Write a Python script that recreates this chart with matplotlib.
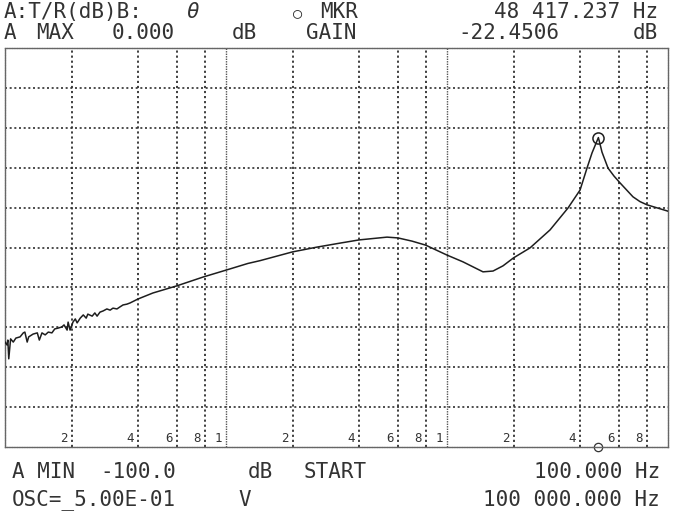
import matplotlib
matplotlib.use("Agg")
import matplotlib.pyplot as plt

# trace (Hz, dB)
freq = [100, 102, 103, 104, 106, 109, 112, 117, 121, 123, 126, 128, 134, 140, 143, 147,
        152, 157, 163, 168, 174, 181, 185, 191, 193, 197, 203, 208, 212, 219, 226, 233,
        237, 248, 255, 261, 269, 278, 289, 299, 308, 321, 331, 342, 356, 368, 400, 467,
        600, 788, 1010, 1256, 1425, 2000, 2581, 3280, 4000, 5353, 6000, 6942, 8000,
        10000, 11815, 14550, 16150, 17920, 20000, 23750, 29250, 35280, 40000, 43000,
        45310, 48417, 50280, 53530, 56980, 60650, 69430, 74700, 80350, 100000]
gain = [-73.7, -74.4, -73.2, -77.9, -72.9, -73.7, -72.7, -72.4, -71.4, -71.2, -73.7, -72.4,
        -71.7, -71.4, -73.2, -71.4, -71.9, -71.2, -71.4, -70.4, -70.2, -69.9, -69.4, -70.7,
        -68.7, -70.7, -68.7, -67.9, -68.9, -67.7, -66.9, -67.7, -66.7, -67.2, -66.4, -67.2,
        -66.2, -65.9, -65.4, -65.7, -65.2, -65.4, -64.9, -64.4, -64.2, -63.9, -62.9, -61.4,
        -59.6, -57.4, -55.6, -54.0, -53.3, -51.1, -49.9, -48.9, -48.1, -47.4, -47.6, -48.4,
        -49.4, -51.9, -53.6, -56.1, -55.9, -54.6, -52.6, -50.1, -45.6, -40.1, -35.6, -30.1,
        -26.3, -22.45, -26.1, -30.1, -32.1, -33.8, -37.3, -38.5, -39.3, -40.9]

mkr_f = 48417.237
mkr_db = -22.4506

decades = [100, 1000, 10000]
sub = [2, 4, 6, 8]
sub_labels = ["2", "4", "6", "8", "1"]

W, H = 678, 512
fig = plt.figure(figsize=(W / 100, H / 100), dpi=100)
ax = fig.add_axes([5 / W, 1 - 447 / H, 663 / W, 399 / H])

grid_col = "#2f2f2f"
dots = (0, (1.2, 1.6))

ax.semilogx(freq, gain, color="#1e1e1e", lw=1.1, zorder=3)
ax.plot(mkr_f, mkr_db, "o", mfc="none", mec="#1e1e1e", ms=8, mew=1.1, zorder=4)
ax.plot(mkr_f, -100, "o", mfc="none", mec="#333333", ms=6, mew=0.9, clip_on=False)

ax.set_xlim(100, 100000)
ax.set_ylim(-100, 0)

# grid
for d in decades:
    for m in sub:
        ax.axvline(d * m, color=grid_col, lw=1.3, ls=dots)
    if d > 100:
        ax.axvline(d, color="#555555", lw=1.0, ls=(0, (1, 0.8)))
for yv in range(-90, 0, 10):
    ax.axhline(yv, color=grid_col, lw=1.2, ls=dots)

ax.set_xticks([])
ax.set_yticks([])
ax.minorticks_off()
for s in ax.spines.values():
    s.set_linestyle((0, (1, 0.8)))
    s.set_color("#666666")
    s.set_linewidth(1.0)

# frequency labels inside the plot
for d in decades:
    for m, lab in zip(sub + [10], sub_labels):
        if d * m >= 100000:
            continue
        ax.annotate(lab, xy=(d * m, -100), xytext=(-3, 1.5), textcoords="offset points",
                    ha="right", va="bottom", fontsize=9, color="#333333",
                    family="DejaVu Sans Mono")

txt_col = "#333333"
fs = 15


def put(x, y, s, ha="left", **kw):
    kw.setdefault("fontsize", fs)
    fig.text(x / W, 1 - y / H, s, ha=ha, va="center", color=txt_col,
             family="DejaVu Sans Mono", **kw)


# header
put(4, 12, "A:T/R(dB)B:")
put(186, 12, "θ", style="italic")
put(293, 13, "○", fontsize=11)
put(320, 12, "MKR")
put(658, 12, "48 417.237 Hz", ha="right")
put(4, 33, "A")
put(36, 33, "MAX")
put(112, 33, "0.000")
put(232, 33, "dB")
put(306, 33, "GAIN")
put(458, 33, "-22.4506")
put(658, 33, "dB", ha="right")

# footer
put(12, 472, "A MIN")
put(100, 472, "-100.0")
put(248, 472, "dB")
put(304, 472, "START")
put(660, 472, "100.000 Hz", ha="right")
put(12, 500, "OSC=_5.00E-01")
put(238, 500, "V")
put(660, 500, "100 000.000 Hz", ha="right")

fig.savefig("out.png", dpi=100)
